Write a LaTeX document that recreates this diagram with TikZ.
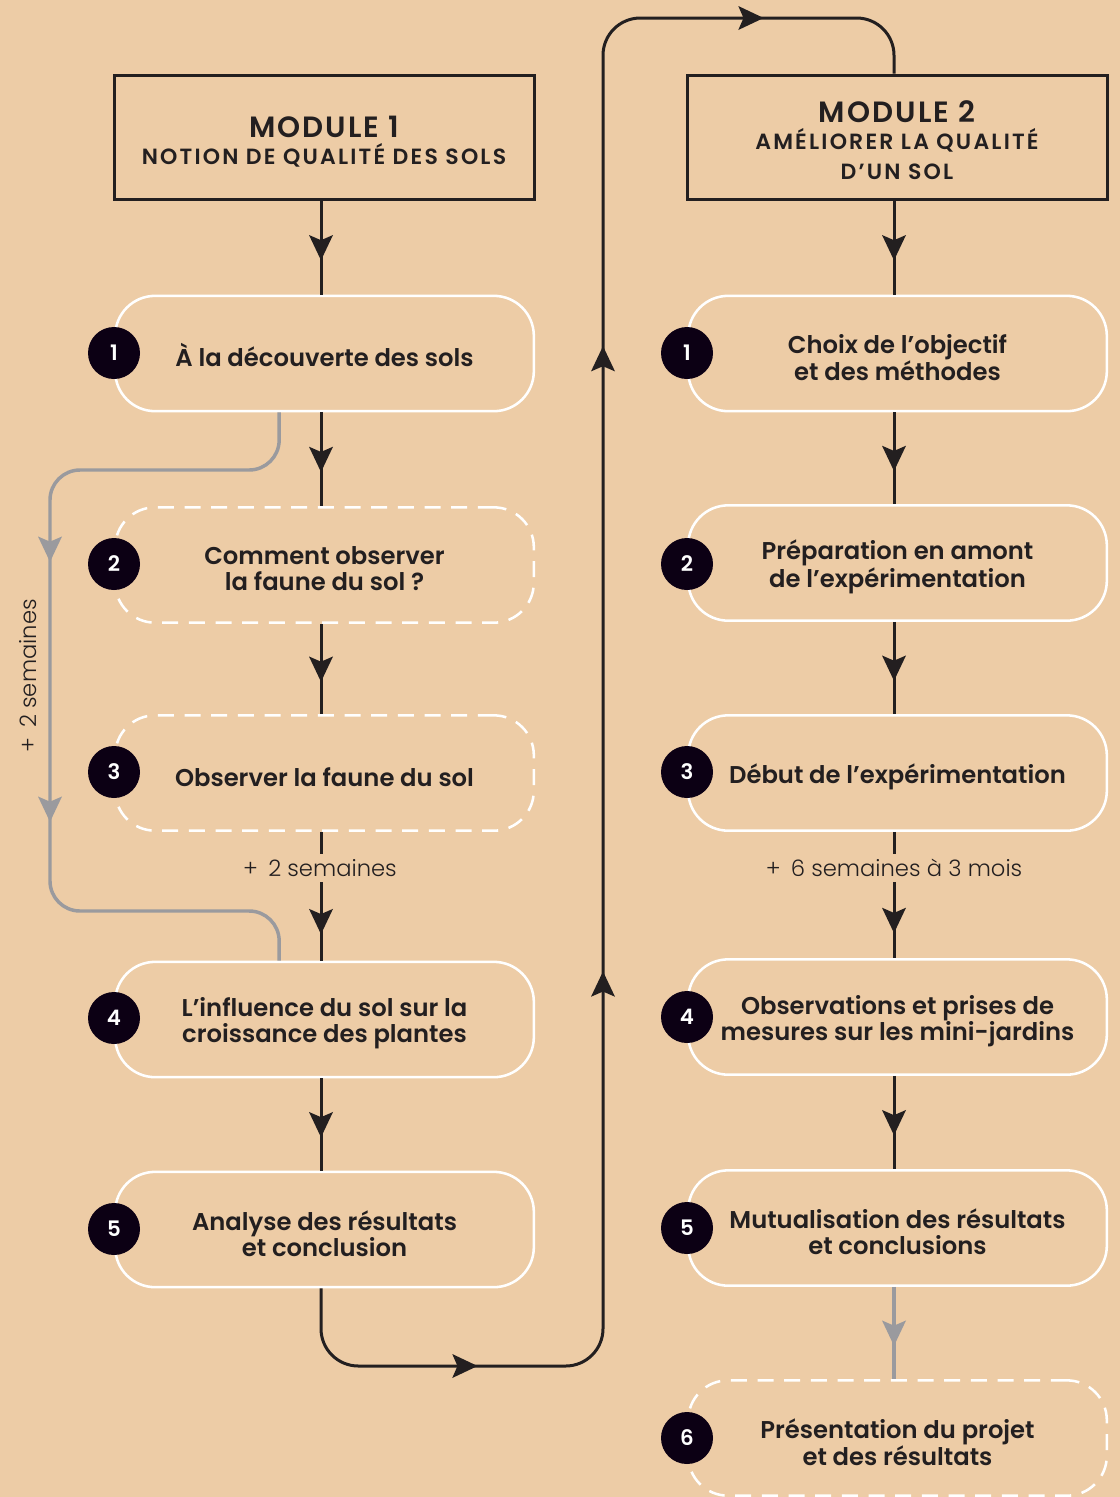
\documentclass[tikz,border=0pt]{standalone}
\usepackage{fontspec}
\setmainfont{Poppins}[BoldFont={Poppins SemiBold}]
\newfontfamily\lightfont{Poppins Light}
\usetikzlibrary{decorations.markings,calc}
\definecolor{bg}{HTML}{EDCCA6}
\definecolor{ink}{HTML}{231F20}
\definecolor{dot}{HTML}{0C0014}
\definecolor{gry}{HTML}{9A9A9E}
\newcommand\myhead{\fill[sharp corners] (9.6pt,0) -- (-9.4pt,9pt) -- (-5.5pt,0) -- (-9.4pt,-9pt) -- cycle;}
\tikzset{
 modframe/.style={draw=ink, line width=2.25pt, minimum width=315pt, minimum height=93pt},
 modtext/.style={align=center, text=ink, inner sep=0pt, font=\bfseries\fontsize{16.5}{22.5}\selectfont\addfontfeatures{LetterSpace=10}},
 stepbox/.style={draw=white, line width=1.9pt, rounded corners=30pt, minimum width=314pt, minimum height=86.5pt},
 steptext/.style={yshift=-3pt, align=center, text=ink, font=\bfseries\fontsize{18.2}{19.5}\selectfont},
 dashbox/.style={stepbox, dash pattern=on 12pt off 8pt},
 num/.style={circle, fill=dot, text=white, minimum size=39pt, inner sep=0pt, font=\bfseries\fontsize{16}{16}\selectfont},
 blk/.style={color=ink, line width=2.25pt},
 gline/.style={color=gry, line width=2.6pt},
 midarrow/.style={postaction={decorate, decoration={markings, mark=at position 0.5 with {\myhead}}}},
 note/.style={text=ink, font=\lightfont\fontsize{17}{20}\selectfont, inner sep=4pt},
}
\newcommand\ttl[1]{{\fontsize{22}{22.5}\selectfont\addfontfeature{LetterSpace=7}#1}\\[-2.25pt]}
\begin{document}
\begin{tikzpicture}[x=0.75pt,y=-0.75pt]
\fill[bg] (0,0) rectangle (1120,1497);
\useasboundingbox (0,0) rectangle (1120,1497);
% module boxes
\node[modframe] (M1) at (324,137) {};
\node[modtext] (M1t) at (324,141.5) {\ttl{MODULE 1}NOTION DE QUALITÉ DES SOLS};
\node[modframe] (M2) at (897,137) {};
\node[modtext] (M2t) at (897,140.5) {\ttl{MODULE 2}AMÉLIORER LA QUALITÉ\\D’UN SOL};
% left column
\node[stepbox, label={[steptext, yshift=2pt]center:{À la découverte des sols}}] (L1) at (324.5,353.5) {};
\node[dashbox, label={[steptext]center:{Comment observer\\la faune du sol~?}}] (L2) at (324.5,565) {};
\node[dashbox, label={[steptext]center:{Observer la faune du sol}}] (L3) at (324.5,773) {};
\node[stepbox, label={[steptext]center:{L’influence du sol sur la\\croissance des plantes}}] (L4) at (324.5,1019.5) {};
\node[stepbox, label={[steptext]center:{Analyse des résultats\\et conclusion}}] (L5) at (324.5,1229.5) {};
% right column
\node[stepbox, label={[steptext]center:{Choix de l’objectif\\et des méthodes}}] (R1) at (897.5,353.5) {};
\node[stepbox, label={[steptext]center:{Préparation en amont\\de l’expérimentation}}] (R2) at (897.5,563) {};
\node[stepbox, label={[steptext]center:{Début de l’expérimentation}}] (R3) at (897.5,773) {};
\node[stepbox, label={[steptext]center:{Observations et prises de\\mesures sur les mini-jardins}}] (R4) at (897.5,1017) {};
\node[stepbox, label={[steptext]center:{Mutualisation des résultats\\et conclusions}}] (R5) at (897.5,1228) {};
\node[dashbox, label={[steptext]center:{Présentation du projet\\et des résultats}}] (R6) at (897.5,1438) {};
% numbers
\node[num] (cL1) at (114,353) {1};
\node[num] (cL2) at (114,564) {2};
\node[num] (cL3) at (114,772) {3};
\node[num] (cL4) at (114,1018) {4};
\node[num] (cL5) at (114,1229) {5};
\node[num] (cR1) at (687,353) {1};
\node[num] (cR2) at (687,564) {2};
\node[num] (cR3) at (687,772) {3};
\node[num] (cR4) at (687,1017) {4};
\node[num] (cR5) at (687,1228) {5};
\node[num] (cR6) at (687,1438) {6};
% notes
\node[note] (n1) at (320,868) {+\hspace{.45em}2 semaines};
\node[note] (n2) at (894,868) {+\hspace{.45em}6 semaines à 3 mois};
\node[note, rotate=90] (n3) at (28,676) {+\hspace{.45em}2 semaines};
% coordinates
\coordinate (cl) at (321,0);
\coordinate (cr) at (894,0);
\coordinate (lb) at (603,1366);
\coordinate (lt) at (603,18);
\coordinate (ga) at (50,470);
\coordinate (gb) at (50,911);
% left connectors
\draw[blk,midarrow] (M1.south -| cl) -- (L1.north -| cl);
\draw[blk,midarrow] (L1.south -| cl) -- (L2.north -| cl);
\draw[blk,midarrow] (L2.south -| cl) -- (L3.north -| cl);
\draw[blk] (L3.south -| cl) -- (n1.north -| cl);
\draw[blk,midarrow] (n1.south -| cl) -- (L4.north -| cl);
\draw[blk,midarrow] (L4.south -| cl) -- (L5.north -| cl);
% right connectors
\draw[blk,midarrow] (M2.south -| cr) -- (R1.north -| cr);
\draw[blk,midarrow] (R1.south -| cr) -- (R2.north -| cr);
\draw[blk,midarrow] (R2.south -| cr) -- (R3.north -| cr);
\draw[blk] (R3.south -| cr) -- (n2.north -| cr);
\draw[blk,midarrow] (n2.south -| cr) -- (R4.north -| cr);
\draw[blk,midarrow] (R4.south -| cr) -- (R5.north -| cr);
\draw[gline,midarrow] (R5.south -| cr) -- (R6.north -| cr);
% loop between modules
\draw[blk, rounded corners=28pt, postaction={decorate, decoration={markings,
  mark=at position 154pt with {\myhead},
  mark=at position 532pt with {\myhead},
  mark=at position 1001pt with {\myhead},
  mark=at position 1355.5pt with {\myhead}}}]
  (L5.south -| cl) |- (lb) -- (lt) -| (M2.north -| cr);
% gray bypass
\draw[gline, rounded corners=22.5pt, postaction={decorate, decoration={markings,
  mark=at position 255pt with {\myhead},
  mark=at position 450pt with {\myhead}}}]
  ([xshift=-34pt]L1.south) |- (ga) -- (gb) -| ([xshift=-34pt]L4.north);
\end{tikzpicture}
\end{document}
